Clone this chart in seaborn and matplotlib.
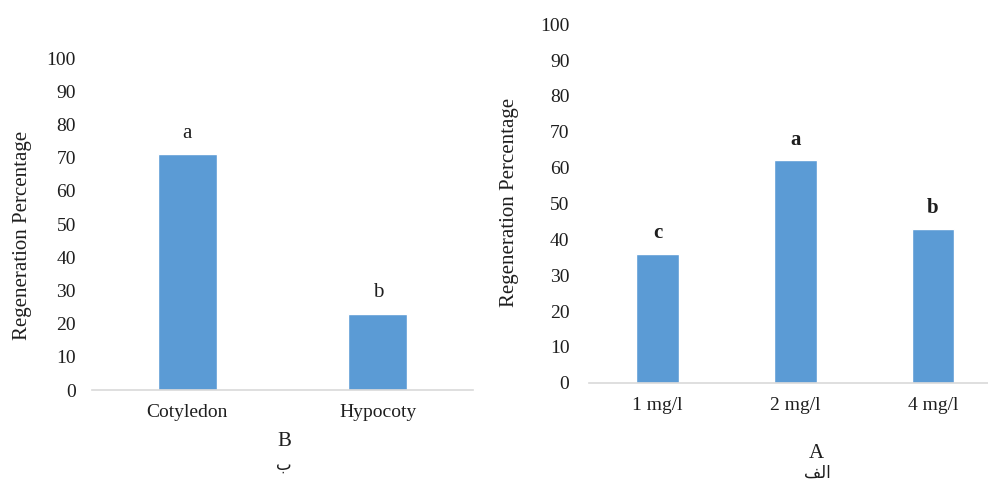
import matplotlib
matplotlib.use("Agg")
import matplotlib.pyplot as plt
import pandas as pd
import seaborn as sns

# Panel B (explant type)
explants = ["Cotyledon", "Hypocoty"]
explant_values = [71, 23]
explant_letters = ["a", "b"]

# Panel A (hormone concentration)
doses = ["1 mg/l", "2 mg/l", "4 mg/l"]
dose_values = [36, 62, 43]
dose_letters = ["c", "a", "b"]

yticks = list(range(0, 101, 10))
ylabel = "Regeneration Percentage"
bar_color = "#5B9BD5"
text_color = "#1E1E1E"

sns.set_theme(style="white")
plt.rcParams['font.family'] = ['Liberation Serif', 'DejaVu Sans']
plt.rcParams['text.color'] = text_color
plt.rcParams['axes.labelcolor'] = text_color
plt.rcParams['xtick.color'] = text_color
plt.rcParams['ytick.color'] = text_color

fig = plt.figure(figsize=(9.88, 4.84), dpi=100)
ax_b = fig.add_axes([0.093, 0.194, 0.386, 0.686])
ax_a = fig.add_axes([0.596, 0.209, 0.418, 0.741])


def draw_panel(ax, cats, vals, letters, tick_pad, label_x, label_y, weight):
    df = pd.DataFrame({"cat": cats, "val": vals})
    sns.barplot(data=df, x="cat", y="val", color=bar_color, saturation=1,
                width=0.31, ax=ax)
    for i, (v, t) in enumerate(zip(vals, letters)):
        ax.annotate(t, (i, v), xytext=(0, 15), textcoords='offset points',
                    ha='center', va='center', fontsize=15, fontweight=weight)
    ax.set_xlim(-0.5, len(cats) - 0.5)
    ax.set_ylim(0, 100)
    ax.set_yticks(yticks)
    ax.set_xlabel("")
    ax.set_ylabel(ylabel, fontsize=15)
    ax.yaxis.set_label_coords(label_x, label_y)
    for s in ["top", "right", "left"]:
        ax.spines[s].set_visible(False)
    ax.spines["bottom"].set_color("#D9D9D9")
    ax.spines["bottom"].set_linewidth(1.2)
    ax.tick_params(axis='y', length=0, pad=tick_pad, labelsize=14)
    ax.tick_params(axis='x', length=0, pad=10, labelsize=14)
    ax.set_facecolor("white")


draw_panel(ax_b, explants, explant_values, explant_letters, 11.5, -0.157, 0.465, "normal")
draw_panel(ax_a, doses, dose_values, dose_letters, 14, -0.169, 0.503, "bold")

# panel captions (Arabic given in presentation forms so it reads right-to-left)
fig.text(284 / 988, 1 - 442 / 484, "B", ha='center', va='center', fontsize=15)
fig.text(284 / 988, 1 - 466 / 484, "ب", ha='center', va='center', fontsize=12)
fig.text(816 / 988, 1 - 453 / 484, "A", ha='center', va='center', fontsize=15)
fig.text(817 / 988, 1 - 474 / 484, "\ufed2\ufedf\ufe8d", ha='center', va='center',
         fontsize=12)

fig.savefig("out.png", dpi=100, facecolor="white")
